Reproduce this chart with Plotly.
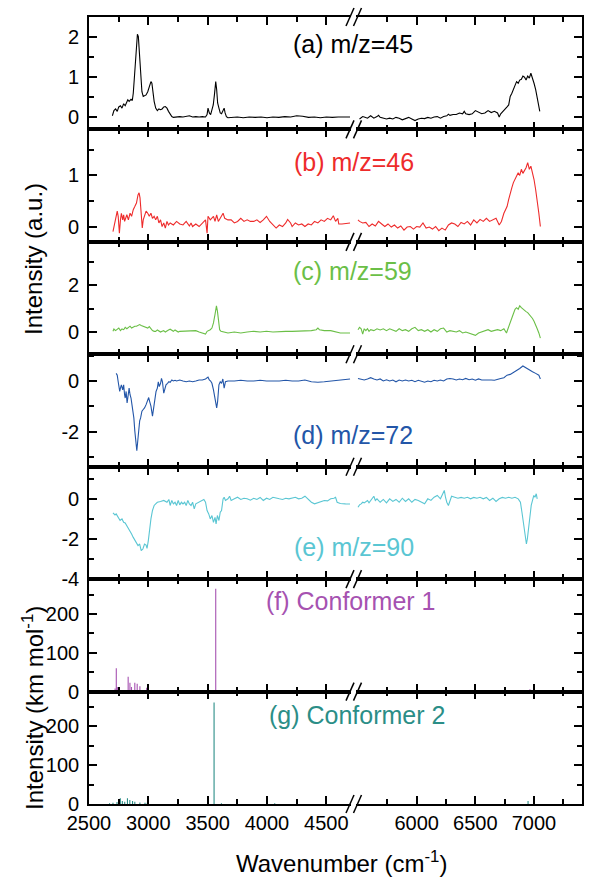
import plotly.graph_objects as go
from plotly.subplots import make_subplots

# ---------------- data ----------------
# (a) m/z=45
a_x = [2697,2710,2724,2738,2751,2765,2778,2792,2805,2819,2827,2838,2854,2865,2873,2881,2892,2900,2908,2916,
       2924,2935,2946,2957,2968,2981,2995,3008,3022,3030,3038,3049,3062,3076,3089,3103,3116,3130,3143,3157,
       3170,3184,3198,3211,3238,3265,3292,3319,3346,3373,3400,3428,3455,3482,3495,3503,3514,3525,3536,3547,
       3557,3568,3576,3584,3595,3606,3617,3628,3639,3647,3658,3671,3700,3750,3800,3850,3900,3950,4000,4050,
       4100,4150,4200,4250,4300,4350,4400,4450,4500,4550,4600,4650,4700, None,
       5513,5540,5553,5581,5608,5635,5662,5675,5689,5716,5743,5770,5797,5824,5851,5878,5905,5932,5959,5986,
       6014,6041,6068,6095,6122,6149,6176,6203,6230,6257,6271,6284,6311,6338,6365,6392,6406,6419,6447,6474,
       6501,6528,6555,6582,6609,6636,6663,6690,6704,6717,6744,6758,6771,6785,6798,6812,6825,6839,6852,6866,
       6879,6893,6906,6920,6933,6947,6961,6974,6988,7001,7015,7028,7042,7050]
a_y = [0.04,0.17,0.21,0.15,0.26,0.29,0.23,0.34,0.29,0.37,0.44,0.40,0.45,0.42,0.60,0.93,1.43,1.84,2.07,2.01,
       1.60,1.02,0.64,0.52,0.54,0.56,0.64,0.79,0.89,0.85,0.64,0.40,0.23,0.17,0.21,0.19,0.21,0.26,0.27,0.23,
       0.15,0.07,0.02,0.0,0.01,0.02,0.01,0.03,0.04,0.01,0.02,0.01,0.02,0.01,0.07,0.23,0.11,0.07,0.19,0.31,
       0.56,0.89,0.69,0.36,0.23,0.11,0.09,0.17,0.23,0.11,0.02,-0.01,0.0,0.01,-0.01,0.01,0.0,0.01,-0.01,0.01,
       0.0,0.02,0.01,0.04,0.03,0.0,0.01,-0.01,0.01,0.0,0.01,0.01,0.01, None,
       -0.04,0.02,0.01,-0.02,0.04,-0.02,0.02,0.05,0.0,-0.02,-0.04,-0.02,-0.04,0.0,-0.02,-0.06,-0.03,0.0,-0.04,-0.08,
       -0.04,-0.02,-0.03,0.0,-0.02,0.01,0.02,-0.02,0.02,0.04,0.08,0.05,0.07,0.07,0.11,0.09,0.15,0.09,0.07,0.09,
       0.17,0.12,0.09,0.11,0.17,0.12,0.15,0.11,0.01,0.09,0.19,0.23,0.26,0.31,0.52,0.60,0.69,0.77,0.89,0.85,
       0.93,0.95,1.03,1.0,0.93,1.03,0.98,1.10,0.93,0.85,0.69,0.48,0.26,0.15]

# (b) m/z=46
b_x = [2702,2719,2738,2746,2756,2765,2773,2784,2792,2800,2811,2819,2832,2846,2859,2873,2886,2900,2913,2922,
       2930,2940,2949,2957,2968,2981,2995,3008,3022,3035,3049,3062,3076,3089,3103,3116,3130,3143,3157,3170,
       3184,3211,3238,3265,3292,3319,3346,3360,3373,3400,3428,3455,3482,3495,3503,3522,3549,3562,3576,3590,
       3617,3630,3644,3671,3698,3725,3752,3779,3806,3833,3860,3888,3915,3942,3969,3996,4023,4050,4077,4104,
       4131,4158,4174,4199,4212,4239,4266,4293,4320,4347,4374,4401,4429,4456,4483,4510,4537,4559,4578,4597,
       4605,4632,4661,4700, None,
       5500,5513,5540,5567,5594,5621,5648,5675,5702,5729,5756,5784,5811,5838,5865,5892,5919,5946,5973,6000,
       6027,6054,6081,6108,6135,6162,6189,6216,6244,6271,6298,6325,6352,6379,6406,6433,6460,6487,6514,6541,
       6568,6595,6622,6650,6677,6704,6723,6744,6758,6771,6785,6798,6812,6825,6839,6852,6866,6879,6893,6906,
       6920,6933,6947,6961,6974,6988,7001,7015,7028,7042,7055]
b_y = [-0.10,0.13,0.30,0.20,-0.13,0.13,0.26,0.13,0.23,0.10,0.20,0.23,0.13,0.26,0.20,0.33,0.39,0.46,0.62,0.66,
       0.56,0.26,-0.03,0.13,0.20,0.30,0.26,0.20,0.26,0.16,0.20,0.13,0.20,0.07,0.13,0.0,0.07,-0.03,0.10,0.03,
       0.07,0.03,0.10,0.05,0.03,0.10,0.01,0.07,0.0,0.05,0.0,0.07,0.13,-0.13,0.20,0.13,0.20,0.10,0.23,0.10,
       0.20,0.26,0.16,0.13,0.13,0.07,0.10,0.16,0.10,0.13,0.10,0.10,0.13,0.08,0.13,0.20,0.10,0.03,-0.03,0.03,
       0.0,0.07,0.14,0.07,0.0,0.07,0.03,0.05,0.0,0.05,0.03,0.10,0.07,0.13,0.10,0.16,0.13,0.21,0.10,0.16,
       0.05,0.05,0.06,0.07, None,
       0.13,0.10,0.07,0.08,0.0,0.05,0.01,0.10,0.05,0.0,0.05,-0.01,0.03,-0.03,0.01,-0.07,-0.01,0.0,-0.05,0.0,
       -0.01,0.07,-0.03,-0.01,-0.05,0.0,-0.08,-0.03,-0.07,0.03,0.07,0.05,0.0,0.08,0.05,0.10,0.03,0.13,0.07,0.14,
       0.10,0.16,0.10,0.13,0.16,0.03,0.10,0.26,0.33,0.39,0.53,0.66,0.76,0.86,0.92,0.99,1.05,1.0,1.12,1.04,
       1.09,1.15,1.25,1.12,1.18,1.05,0.92,0.72,0.53,0.26,0.0]

# (c) m/z=59
c_x = [2702,2710,2724,2738,2751,2765,2778,2792,2805,2819,2832,2846,2859,2873,2886,2900,2913,2927,2940,2954,
       2968,2981,2995,3008,3022,3035,3049,3062,3076,3089,3103,3116,3130,3143,3157,3170,3184,3198,3211,3225,
       3238,3252,3265,3292,3319,3346,3373,3400,3428,3455,3482,3495,3509,3522,3536,3549,3562,3574,3582,3590,
       3601,3612,3631,3671,3725,3779,3833,3888,3942,3996,4050,4104,4158,4212,4266,4320,4374,4415,4429,4442,
       4483,4537,4591,4618,4661,4700, None,
       5500,5513,5527,5540,5553,5567,5581,5594,5608,5635,5662,5689,5716,5743,5770,5797,5824,5851,5878,5905,
       5932,5959,5986,6014,6041,6068,6095,6122,6149,6176,6203,6230,6257,6284,6311,6338,6365,6392,6419,6447,
       6474,6501,6528,6555,6582,6609,6636,6663,6690,6717,6744,6766,6785,6798,6812,6825,6839,6852,6866,6879,
       6893,6906,6920,6933,6947,6961,6974,6988,7001,7015,7028,7042,7055]
c_y = [0.03,0.13,0.06,0.10,0.17,0.06,0.13,0.10,0.20,0.14,0.20,0.25,0.17,0.23,0.25,0.25,0.29,0.32,0.28,0.25,
       0.23,0.20,0.17,0.23,0.14,0.06,0.03,0.03,0.09,0.03,0.0,0.03,0.06,0.0,0.06,0.09,0.12,0.06,0.03,0.09,
       0.03,0.0,0.03,0.03,0.06,0.03,0.06,0.06,0.0,-0.04,-0.09,0.03,0.06,0.10,0.17,0.39,0.75,1.12,0.90,0.46,
       0.10,0.03,0.0,-0.04,0.0,-0.04,0.0,0.03,0.0,0.03,0.0,0.03,0.03,0.03,0.03,0.06,0.06,0.10,0.17,0.10,
       0.06,0.06,0.0,-0.04,-0.04,-0.04, None,
       0.10,0.20,0.14,-0.09,0.14,0.06,0.14,0.03,0.10,0.06,0.14,0.09,0.14,0.06,0.14,0.10,0.03,0.14,0.06,0.10,
       0.03,0.14,0.20,0.06,0.10,0.03,0.10,0.0,0.10,0.03,0.14,0.17,0.0,0.06,0.03,0.0,0.06,-0.04,0.0,-0.04,
       -0.09,-0.14,-0.04,0.0,0.03,0.10,0.03,0.06,0.10,0.06,0.14,-0.04,0.20,0.39,0.61,0.78,0.97,1.04,0.97,1.12,
       1.04,0.97,0.93,0.87,0.83,0.75,0.68,0.58,0.46,0.32,0.14,-0.04,-0.26]

# (d) m/z=72
d_x = [2729,2738,2746,2751,2759,2765,2773,2784,2792,2800,2805,2813,2821,2827,2838,2846,2854,2862,2870,2878,
       2886,2895,2903,2911,2919,2927,2935,2946,2957,2968,2981,2995,3003,3011,3022,3035,3043,3054,3065,3076,
       3084,3092,3103,3111,3119,3130,3138,3149,3162,3173,3184,3198,3211,3225,3238,3265,3292,3319,3346,3373,
       3400,3428,3455,3482,3503,3514,3525,3536,3549,3562,3576,3584,3595,3606,3617,3628,3639,3650,3671,3725,
       3779,3833,3888,3942,3996,4050,4104,4158,4212,4266,4320,4374,4429,4483,4537,4591,4661,4700, None,
       5500,5527,5553,5581,5608,5635,5662,5689,5716,5743,5770,5797,5824,5851,5878,5905,5932,5959,5986,6014,
       6041,6068,6095,6122,6149,6176,6203,6230,6257,6284,6311,6338,6365,6392,6419,6447,6474,6501,6528,6555,
       6582,6609,6636,6663,6690,6717,6744,6771,6798,6825,6852,6879,6906,6920,6933,6961,6988,7015,7042,7055]
d_y = [0.30,0.23,-0.03,-0.22,-0.41,-0.28,-0.15,-0.35,-0.15,-0.54,-0.67,-0.41,-0.86,-0.67,-0.28,-0.54,-0.67,-0.93,-1.19,-1.45,
       -1.96,-2.48,-2.74,-2.35,-1.83,-1.57,-1.45,-1.19,-1.12,-1.06,-0.93,-0.74,-0.65,-0.80,-0.99,-1.38,-1.06,-0.67,-0.41,-0.28,
       -0.03,-0.22,-0.09,0.10,-0.03,-0.48,-0.28,-0.15,-0.09,-0.03,-0.05,0.04,0.0,0.03,0.0,0.04,0.0,-0.03,0.0,-0.03,
       0.0,0.04,0.04,0.08,0.15,0.04,0.0,-0.09,-0.35,-0.67,-1.06,-0.80,-0.15,-0.03,-0.09,0.08,-0.28,-0.03,0.0,0.0,
       0.03,0.0,0.0,0.03,0.0,0.0,0.0,0.03,0.0,0.0,0.04,-0.03,-0.05,-0.03,0.0,0.04,0.06,0.08, None,
       0.10,0.08,0.04,0.08,0.13,0.08,0.04,0.08,0.0,0.05,0.0,0.04,-0.03,0.04,0.0,0.04,0.0,0.03,-0.03,0.03,
       0.0,-0.05,0.0,-0.03,0.03,0.0,0.04,0.0,0.08,0.10,0.08,0.04,0.08,0.05,0.10,0.05,0.08,0.03,0.08,0.04,
       0.04,0.05,0.04,0.03,0.08,0.10,0.13,0.23,0.26,0.34,0.39,0.49,0.59,0.55,0.49,0.43,0.36,0.30,0.23,0.08]

# (e) m/z=90
e_x = [2702,2719,2729,2746,2762,2778,2792,2805,2819,2832,2846,2859,2873,2886,2900,2913,2927,2940,2954,2968,
       2981,2989,3000,3011,3022,3035,3049,3062,3076,3103,3130,3157,3173,3184,3198,3211,3225,3238,3252,3265,
       3279,3292,3306,3319,3333,3346,3360,3373,3387,3400,3428,3455,3468,3482,3495,3509,3522,3536,3549,3562,
       3571,3582,3595,3606,3617,3630,3639,3650,3671,3685,3698,3725,3752,3779,3806,3833,3860,3888,3915,3942,
       3969,3996,4023,4050,4077,4104,4131,4158,4185,4212,4239,4266,4293,4320,4347,4374,4401,4429,4456,4483,
       4510,4537,4564,4578,4591,4618,4661,4700, None,
       5500,5513,5527,5540,5553,5581,5594,5608,5621,5635,5648,5662,5689,5716,5743,5770,5797,5824,5851,5878,
       5905,5932,5959,5986,6014,6041,6068,6095,6122,6149,6176,6203,6225,6236,6246,6257,6271,6284,6298,6325,
       6352,6379,6406,6433,6460,6487,6514,6541,6568,6595,6622,6650,6677,6704,6731,6758,6785,6812,6839,6866,
       6885,6898,6912,6925,6936,6944,6955,6966,6977,6988,6999,7009,7020,7028]
e_y = [-0.70,-0.80,-0.75,-0.92,-1.08,-1.00,-1.17,-1.20,-1.33,-1.47,-1.58,-1.75,-1.92,-2.08,-2.17,-2.33,-2.25,-2.58,-2.50,-2.25,
       -2.30,-2.47,-2.08,-1.50,-1.00,-0.58,-0.33,-0.25,-0.17,-0.13,-0.08,-0.17,-0.03,-0.33,-0.08,-0.25,-0.17,-0.33,-0.08,-0.30,
       -0.17,-0.25,-0.17,-0.33,-0.08,-0.25,-0.33,-0.17,-0.50,-0.25,-0.17,-0.08,-0.03,-0.17,-0.58,-0.75,-1.00,-0.83,-1.17,-0.92,
       -1.25,-0.83,-1.08,-0.67,-0.58,0.0,0.08,-0.08,0.0,0.13,-0.08,0.0,0.08,-0.03,0.03,0.0,-0.07,0.03,-0.03,0.07,
       -0.08,0.03,-0.03,0.08,0.03,0.0,-0.03,0.03,0.0,0.03,0.08,0.0,0.03,0.13,0.0,-0.17,-0.25,-0.20,-0.13,-0.08,
       -0.10,0.0,0.03,0.08,-0.17,-0.23,-0.25,-0.26, None,
       -0.42,-0.30,-0.25,-0.17,-0.20,-0.08,-0.20,-0.08,0.03,0.13,-0.08,0.0,-0.17,-0.03,-0.20,0.0,-0.13,-0.03,-0.17,0.03,
       -0.13,0.0,-0.17,-0.03,-0.08,-0.17,-0.25,0.0,-0.08,0.08,0.17,0.0,0.25,0.42,0.08,-0.17,-0.33,-0.08,0.13,0.08,
       0.03,0.07,0.03,0.08,0.0,0.07,0.03,0.08,0.0,0.07,-0.08,0.03,-0.13,0.0,0.07,0.03,0.08,0.03,0.08,0.0,
       -0.17,-0.67,-1.33,-1.83,-2.25,-2.00,-1.33,-0.67,-0.33,-0.08,0.17,0.08,0.25,0.0]

# (f) Conformer 1 stick spectrum
f_pos = [2720,2730,2738,2745,2830,2845,2858,2886,2906,2929,2986,3000,3568,3920,6966]
f_int = [8,60,12,10,38,23,12,23,20,14,10,12,265,2,6]
# (g) Conformer 2 stick spectrum
g_pos = [2673,2702,2736,2753,2764,2781,2801,2824,2844,2867,2886,2929,2972,2991,3554,3616,4065,6950]
g_int = [2,3,5,12,15,8,6,15,10,8,6,4,3,3,262,2,2,8]

labels = ["(a) m/z=45", "(b) m/z=46", "(c) m/z=59", "(d) m/z=72", "(e) m/z=90",
          "(f) Conformer 1", "(g) Conformer 2"]
colors = ["#000000", "#EE2B2B", "#6BBF47", "#2356A8", "#5AC6D3", "#A652B1", "#2B8E87"]

y_ranges = [[-0.3, 2.5], [-0.3, 1.9], [-0.95, 3.85], [-3.37, 1.05], [-4, 1.6], [0, 290], [0, 290]]
y_major = [[0, 1, 2], [0, 1], [0, 2], [-2, 0], [-4, -2, 0], [0, 100, 200], [0, 100, 200]]
y_minor = [[0.5, 1.5, 2.5], [0.5, 1.5], [1, 3], [-3, -1, 1], [-3, -1, 1], [50, 150, 250], [50, 150, 250]]

x_left_range = [2500, 4708]
x_right_range = [5483, 7410]
x_left_major = [2500, 3000, 3500, 4000, 4500]
x_left_minor = [2750, 3250, 3750, 4250]
x_right_major = [6000, 6500, 7000]
x_right_minor = [5750, 6250, 6750, 7250]

# ---------------- figure ----------------
FONT = "Liberation Sans, Arial, sans-serif"
W, H = 607, 877
L, R, T, B = 89, 25, 17, 73
PW, PH = W - L - R, H - T - B

fig = make_subplots(rows=7, cols=2, horizontal_spacing=0.0, vertical_spacing=0.0)

def sticks(pos, inten):
    xs, ys = [], []
    for p, v in zip(pos, inten):
        xs += [p, p, None]
        ys += [0, v, None]
    return xs, ys

series = [(a_x, a_y), (b_x, b_y), (c_x, c_y), (d_x, d_y), (e_x, e_y),
          sticks(f_pos, f_int), sticks(g_pos, g_int)]

for i, (xs, ys) in enumerate(series):
    for col in (1, 2):
        fig.add_trace(go.Scatter(x=xs, y=ys, mode="lines",
                                 line=dict(color=colors[i], width=1.1),
                                 connectgaps=False, showlegend=False, hoverinfo="skip"),
                      row=i + 1, col=col)

left_dom = [0, (351 - L) / PW]
right_dom = [(356 - L) / PW, 1]

def fmt(v):
    return str(v).replace("\u2212", "-")

axis_common = dict(showline=True, linecolor="black", linewidth=1.6, ticks="inside",
                   ticklen=8, tickwidth=1.5, tickcolor="black", showgrid=False,
                   zeroline=False, tickfont=dict(family=FONT, size=20, color="black"))

for i in range(7):
    r = i + 1
    last = (r == 7)
    fig.update_xaxes(row=r, col=1, domain=left_dom, range=x_left_range, mirror="allticks",
                     tickmode="array", tickvals=x_left_major,
                     ticktext=[str(v) for v in x_left_major], showticklabels=last,
                     minor=dict(ticks="inside", ticklen=5, tickwidth=1.5, tickcolor="black",
                                tickmode="array", tickvals=x_left_minor),
                     **axis_common)
    fig.update_xaxes(row=r, col=2, domain=right_dom, range=x_right_range, mirror="allticks",
                     tickmode="array", tickvals=x_right_major,
                     ticktext=[str(v) for v in x_right_major], showticklabels=last,
                     minor=dict(ticks="inside", ticklen=5, tickwidth=1.5, tickcolor="black",
                                tickmode="array", tickvals=x_right_minor),
                     **axis_common)
    ytext = [fmt(v) for v in y_major[i]]
    fig.update_yaxes(row=r, col=1, range=y_ranges[i], side="left", mirror=False,
                     tickmode="array", tickvals=y_major[i], ticktext=ytext,
                     ticklabelstandoff=4,
                     minor=dict(ticks="inside", ticklen=5, tickwidth=1.5, tickcolor="black",
                                tickmode="array", tickvals=y_minor[i]),
                     **axis_common)
    fig.update_yaxes(row=r, col=2, range=y_ranges[i], side="right", mirror=False,
                     tickmode="array", tickvals=y_major[i], showticklabels=False,
                     minor=dict(ticks="inside", ticklen=5, tickwidth=1.5, tickcolor="black",
                                tickmode="array", tickvals=y_minor[i]),
                     **axis_common)

def px2paper(px, py):
    return (px - L) / PW, (H - B - py) / PH

# break marks "//" on each horizontal border
shapes = []
for k in range(8):
    py = T + k * PH / 7
    for cx in (350, 357.5):
        x0, y0 = px2paper(cx - 4, py + 9)
        x1, y1 = px2paper(cx + 4, py - 9)
        shapes.append(dict(type="line", xref="paper", yref="paper", x0=x0, y0=y0, x1=x1, y1=y1,
                           line=dict(color="black", width=1.5)))

label_pos = [(353, 43.5), (354, 162), (352.5, 271), (352.8, 435), (354, 547), (350, 601), (356.7, 715)]
annotations = []
for i, (lx, ly) in enumerate(label_pos):
    xp, yp = px2paper(lx, ly)
    annotations.append(dict(text=labels[i], x=xp, y=yp, xref="paper", yref="paper",
                            xanchor="center", yanchor="middle", showarrow=False,
                            font=dict(family=FONT, size=25, color=colors[i])))

xp, yp = px2paper(341, 862)
annotations.append(dict(text="Wavenumber (cm<sup>-1</sup>)", x=xp, y=yp, xref="paper", yref="paper",
                        xanchor="center", yanchor="middle", showarrow=False,
                        font=dict(family=FONT, size=24, color="black")))
xp, yp = px2paper(33, 259)
annotations.append(dict(text="Intensity (a.u.)", x=xp, y=yp, xref="paper", yref="paper",
                        xanchor="center", yanchor="middle", showarrow=False, textangle=-90,
                        font=dict(family=FONT, size=24, color="black")))
xp, yp = px2paper(33, 708)
annotations.append(dict(text="Intensity (km mol<sup>-1</sup>)", x=xp, y=yp, xref="paper", yref="paper",
                        xanchor="center", yanchor="middle", showarrow=False, textangle=-90,
                        font=dict(family=FONT, size=24, color="black")))

fig.update_layout(width=W, height=H, margin=dict(l=L, r=R, t=T, b=B),
                  paper_bgcolor="white", plot_bgcolor="white",
                  shapes=shapes, annotations=annotations, showlegend=False,
                  font=dict(family=FONT, color="black"))

fig.write_html("out.html")
